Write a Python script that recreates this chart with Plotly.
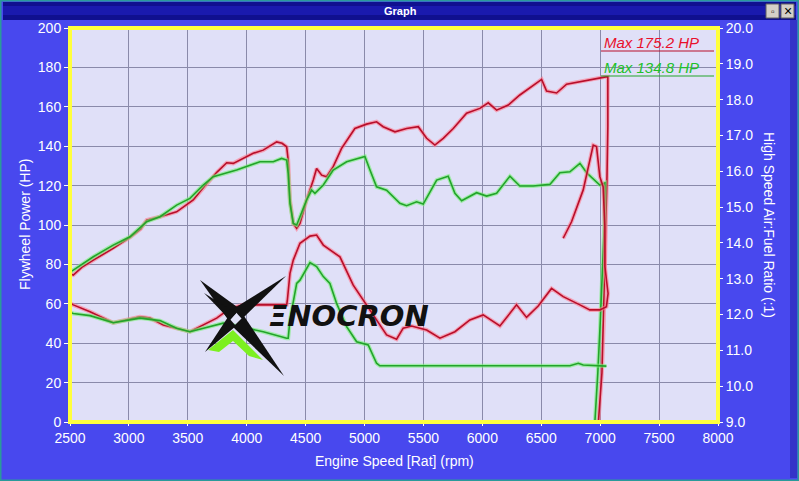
import plotly.graph_objects as go

# ---------------- data ----------------
red_hp_rpm = [2510, 2528, 2600, 2698, 2867, 3009, 3100, 3151, 3264, 3405, 3546, 3660, 3750, 3830, 3886,
              3970, 4055, 4140, 4254, 4300, 4339, 4352, 4367, 4395, 4424, 4452, 4508, 4565, 4593, 4636,
              4678, 4734, 4805, 4918, 5017, 5102, 5158, 5258, 5357, 5456, 5527, 5597, 5668, 5753, 5866,
              5979, 6050, 6121, 6220, 6318, 6431, 6503, 6545, 6573, 6630, 6715, 6813, 6912, 6997, 7048,
              7065, 7065, 7058, 7048, 7040, 7030, 7015, 6985]
red_hp = [75.0, 74.6, 78.5, 82.2, 88.1, 93.7, 98.0, 102.5, 104.2, 106.7, 112.7, 121.1, 127.0, 131.6, 131.3,
          134.0, 136.4, 138.0, 142.2, 141.5, 139.7, 133.0, 112.7, 100.8, 98.3, 100.8, 112.7, 122.8, 128.7, 125.3,
          124.5, 129.6, 138.9, 149.0, 151.2, 152.4, 149.9, 147.3, 149.0, 149.9, 144.0, 140.6, 144.0, 149.0, 156.7,
          159.2, 162.0, 158.3, 160.9, 166.0, 171.0, 173.9, 168.0, 167.6, 167.0, 171.5, 172.7, 173.9, 174.7, 175.2,
          175.2, 150.0, 125.0, 100.0, 75.0, 50.0, 25.0, 0.0]

green_hp_rpm = [2510, 2528, 2698, 2867, 3009, 3151, 3264, 3405, 3518, 3631, 3716, 3914, 4112, 4225, 4296,
                4339, 4352, 4367, 4395, 4424, 4452, 4508, 4551, 4579, 4650, 4734, 4848, 4961, 5003, 5046,
                5102, 5187, 5300, 5357, 5442, 5498, 5612, 5710, 5767, 5824, 5951, 6036, 6121, 6234, 6318,
                6431, 6573, 6658, 6743, 6828, 6887, 6997, 7040, 7035, 7020, 7000, 6980, 6955]
green_hp = [76.5, 77.1, 83.9, 89.8, 94.0, 101.7, 104.2, 110.1, 113.5, 120.3, 124.5, 127.9, 132.1, 132.1, 133.8,
            133.0, 126.2, 111.0, 100.8, 100.0, 104.2, 112.7, 117.7, 116.1, 120.3, 127.9, 132.1, 134.3, 134.8, 127.9,
            119.4, 117.7, 111.0, 109.8, 111.8, 110.6, 122.8, 124.8, 116.1, 112.3, 116.4, 114.7, 116.1, 124.8, 119.8,
            119.8, 120.6, 126.5, 127.0, 131.3, 126.4, 120.3, 121.3, 100.0, 75.0, 50.0, 25.0, 0.0]

red_afr_rpm = [2510, 2528, 2670, 2867, 3094, 3179, 3292, 3405, 3518, 3745, 3858, 3971, 4225, 4339, 4345,
               4367, 4395, 4452, 4537, 4593, 4650, 4791, 4904, 5017, 5102, 5187, 5272, 5328, 5399, 5527,
               5640, 5767, 5894, 6007, 6149, 6234, 6290, 6375, 6474, 6587, 6686, 6828, 6912, 6997, 7053,
               7067, 7040, 7040, 7025, 6997, 6969, 6941, 6912, 6856, 6757, 6686]
red_afr = [12.30, 12.27, 12.08, 11.77, 11.94, 11.90, 11.71, 11.62, 11.52, 11.90, 12.17, 12.27, 12.27, 12.27, 12.40,
           13.15, 13.52, 13.99, 14.19, 14.22, 13.94, 13.61, 12.82, 12.27, 11.85, 11.43, 11.31, 11.62, 11.68, 11.57,
           11.34, 11.52, 11.85, 11.99, 11.68, 12.03, 12.27, 11.92, 12.24, 12.73, 12.50, 12.27, 12.13, 12.13, 12.22,
           12.59, 13.34, 14.45, 15.57, 15.85, 16.69, 16.73, 16.31, 15.48, 14.59, 14.13]

green_afr_rpm = [2510, 2528, 2670, 2867, 3094, 3264, 3405, 3518, 3801, 3943, 4140, 4339, 4352, 4367, 4395,
                 4424, 4452, 4537, 4593, 4650, 4706, 4763, 4848, 4933, 5031, 5102, 5130, 5500, 6000, 6500,
                 6743, 6814, 6856, 7053]
green_afr = [12.05, 12.03, 11.97, 11.77, 11.90, 11.83, 11.62, 11.52, 11.76, 11.66, 11.52, 11.34, 11.34, 11.85, 12.31,
             12.87, 12.96, 13.45, 13.34, 13.06, 12.87, 12.31, 11.66, 11.24, 11.15, 10.64, 10.57, 10.57, 10.57, 10.57,
             10.57, 10.64, 10.59, 10.56]

x_ticks = [2500, 3000, 3500, 4000, 4500, 5000, 5500, 6000, 6500, 7000, 7500, 8000]
hp_ticks = [0, 20, 40, 60, 80, 100, 120, 140, 160, 180, 200]
afr_ticks = [9, 10, 11, 12, 13, 14, 15, 16, 17, 18, 19, 20]
legend_labels = ["Max 175.2 HP", "Max 134.8 HP"]

# ---------------- styling ----------------
W, H = 799, 481
ML, MR, MT, MB = 70, 81, 28, 59
PW, PH = W - ML - MR, H - MT - MB
BG = "#4848ee"
RED, RED_HALO = "#b80e2a", "rgba(255,120,140,0.6)"
GRN, GRN_HALO = "#22a42a", "rgba(120,240,120,0.6)"
FONT = "Liberation Sans, Arial, sans-serif"


def fx(px):
    return (px - ML) / PW


def fy(py):
    return (H - MB - py) / PH


fig = go.Figure()


def add_line(x, y, color, halo, yaxis="y"):
    fig.add_trace(go.Scatter(x=x, y=y, mode="lines", yaxis=yaxis, showlegend=False, hoverinfo="skip",
                             line=dict(color=halo, width=4)))
    fig.add_trace(go.Scatter(x=x, y=y, mode="lines", yaxis=yaxis, showlegend=False,
                             line=dict(color=color, width=1.6)))


add_line(red_hp_rpm, red_hp, RED, RED_HALO)
add_line(green_hp_rpm, green_hp, GRN, GRN_HALO)
add_line(red_afr_rpm, red_afr, RED, RED_HALO, "y2")
add_line(green_afr_rpm, green_afr, GRN, GRN_HALO, "y2")

shapes = []
# window frame
shapes.append(dict(type="rect", xref="paper", yref="paper", x0=fx(0.5), x1=fx(798.5), y0=fy(480.5), y1=fy(0.5),
                   line=dict(color="#2a9a9a", width=2), layer="below"))
shapes.append(dict(type="rect", xref="paper", yref="paper", x0=fx(790), x1=fx(797), y0=fy(478), y1=fy(20),
                   line=dict(width=0), fillcolor="#3434c8", layer="below"))
# title bar
shapes.append(dict(type="rect", xref="paper", yref="paper", x0=fx(3), x1=fx(796), y0=fy(20), y1=fy(2),
                   line=dict(width=0), fillcolor="#10108f", layer="below"))
shapes.append(dict(type="rect", xref="paper", yref="paper", x0=fx(3), x1=fx(796), y0=fy(15), y1=fy(6),
                   line=dict(width=0), fillcolor="#1a1aae", layer="below"))
for bx in (766, 781):
    shapes.append(dict(type="rect", xref="paper", yref="paper", x0=fx(bx), x1=fx(bx + 13), y0=fy(18), y1=fy(4),
                       line=dict(color="#606060", width=1), fillcolor="#d4d0c8", layer="below"))
# yellow plot border
shapes.append(dict(type="rect", xref="paper", yref="paper", x0=0, x1=1, y0=0, y1=1,
                   line=dict(color="#ffff3c", width=4), layer="above"))
# legend underlines
shapes.append(dict(type="line", xref="paper", yref="paper", x0=fx(601), x1=fx(714), y0=fy(51), y1=fy(51),
                   line=dict(color=RED, width=1)))
shapes.append(dict(type="line", xref="paper", yref="paper", x0=fx(601), x1=fx(714), y0=fy(76), y1=fy(76),
                   line=dict(color=GRN, width=1)))


def poly(pts, color):
    p = "M " + " L ".join(f"{fx(a):.5f},{fy(b):.5f}" for a, b in pts) + " Z"
    return dict(type="path", xref="paper", yref="paper", path=p, fillcolor=color,
                line=dict(width=0), layer="above")


# logo (decoration)
shapes.append(poly([(200, 280), (240, 309), (229, 321)], "#111111"))
shapes.append(poly([(286, 276), (242, 319), (233, 309)], "#111111"))
shapes.append(poly([(204, 293), (236, 313), (230, 320)], "#111111"))
shapes.append(poly([(205, 352), (236, 326), (228, 317)], "#111111"))
shapes.append(poly([(284, 376), (244, 316), (233, 327)], "#111111"))
shapes.append(poly([(208, 350), (233, 330), (263, 360), (249, 356), (233, 341), (219, 352)], "#7cf020"))


def ann(text, px, py, size, color, family=FONT, angle=0, xanchor="center"):
    return dict(text=text, x=fx(px), y=fy(py), xref="paper", yref="paper", showarrow=False,
                xanchor=xanchor, yanchor="middle", textangle=angle,
                font=dict(family=family, size=size, color=color))


annotations = [
    ann("<b>Graph</b>", 400, 11, 11, "white", family="Liberation Sans Narrow, Liberation Sans, Arial"),
    ann("×", 788, 11, 14, "black"),
    ann("▫", 772.5, 11, 10, "black"),
    ann("Flywheel Power (HP)", 25, 225, 14, "white", angle=-90),
    ann("High Speed Air:Fuel Ratio (:1)", 769, 225, 14, "white", angle=90),
    ann("Engine Speed [Rat] (rpm)", 394, 461, 14, "white"),
    ann("<i>" + legend_labels[0] + "</i>", 602, 43, 15, "#e8102c", xanchor="left"),
    ann("<i>" + legend_labels[1] + "</i>", 602, 67, 15, "#22c02a", xanchor="left"),
    ann("<i><b>ΞNOCRON</b></i>", 349, 316, 29, "#111111", family="DejaVu Sans, sans-serif"),
]

fig.update_layout(
    width=W, height=H,
    margin=dict(l=ML, r=MR, t=MT, b=MB, pad=0),
    paper_bgcolor=BG, plot_bgcolor="#e0e0f8",
    showlegend=False,
    font=dict(family=FONT, size=14, color="white"),
    xaxis=dict(range=[2500, 8000], tickvals=x_ticks, showgrid=True, gridcolor="#8a8aaa", gridwidth=1,
               zeroline=False, ticks="outside", ticklen=3, tickcolor="white",
               tickfont=dict(family=FONT, size=14, color="white")),
    yaxis=dict(range=[0, 200], tickvals=hp_ticks, showgrid=True, gridcolor="#8a8aaa", gridwidth=1,
               zeroline=False, ticks="outside", ticklen=5, tickcolor="white",
               tickfont=dict(family=FONT, size=14, color="white")),
    yaxis2=dict(range=[9, 20], tickvals=afr_ticks, tickformat=".1f", overlaying="y", side="right",
                showgrid=False, zeroline=False, ticks="outside", ticklen=4, tickcolor="white",
                tickfont=dict(family=FONT, size=14, color="white")),
    shapes=shapes,
    annotations=annotations,
)

fig.write_html("out.html", config={"displayModeBar": False},
               post_script="document.body.style.margin='0';document.body.style.overflow='hidden';")
